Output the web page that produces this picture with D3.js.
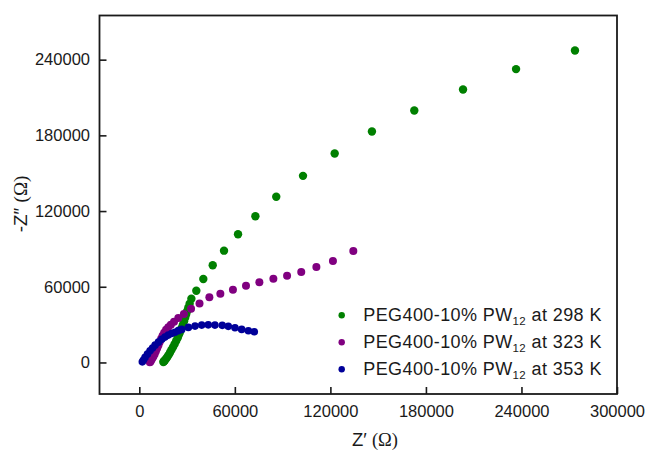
<!DOCTYPE html>
<html>
<head>
<meta charset="utf-8">
<script src="https://cdn.jsdelivr.net/npm/d3@7/dist/d3.min.js"></script>
<style>
  html, body { margin: 0; padding: 0; background: #fff; }
  svg { display: block; }
  text { font-family: "Liberation Sans", Arial, sans-serif; fill: #1a1a1a; }
</style>
</head>
<body>
<svg id="chart" width="646" height="452"></svg>
<script>
// Nyquist data (Z' and -Z'' in kΩ) for PEG400-10% PW12 at three temperatures
const re298 = [273.6, 236.6, 203.3, 172.7, 146.1, 122.7, 102.8, 86.0, 72.9, 62.0, 53.2, 46.1, 40.2, 35.8, 32.7,
  31.6, 30.8, 30.1, 29.4, 28.8, 28.1, 27.4, 26.6, 25.8, 25.0, 24.2, 23.2, 22.2, 21.2, 20.2, 19.3, 18.4, 17.6, 16.8, 16.1, 15.5, 15.1];
const im298 = [247.3, 232.5, 216.3, 199.7, 183.0, 165.6, 147.9, 131.4, 115.9, 101.6, 88.6, 77.0, 66.1, 56.8, 50.5,
  46.5, 43.5, 40.8, 38.0, 35.4, 32.6, 30.0, 27.3, 24.8, 22.3, 19.8, 17.2, 14.7, 12.3, 10.0, 7.9, 6.0, 4.3, 2.9, 1.8, 0.9, 0.3];

const re323 = [134.4, 121.6, 111.2, 101.7, 92.8, 84.2, 75.4, 67.0, 58.8, 50.9, 44.0, 37.8, 32.5, 28.0, 24.5, 21.8,
  19.8, 18.2, 16.8, 15.6, 14.6, 13.7, 12.8, 12.0, 11.2, 10.4, 9.6, 8.8, 8.0, 7.4, 6.9, 6.6];
const im323 = [88.3, 80.4, 75.6, 71.7, 68.7, 66.3, 63.5, 60.8, 57.6, 54.4, 51.6, 46.8, 42.5, 38.5, 35.3, 32.3,
  29.8, 28.0, 26.0, 23.6, 21.2, 18.8, 16.2, 13.6, 11.2, 8.8, 6.6, 4.6, 2.9, 1.6, 0.6, 0.1];

const re353 = [72.2, 68.5, 64.3, 60.1, 55.9, 52.1, 47.5, 43.3, 39.2, 35.0, 30.8, 26.6, 24.5, 22.4, 20.3, 18.2,
  16.1, 14.1, 12.0, 9.9, 8.3, 6.7, 5.1, 3.6, 2.6, 1.9];
const im353 = [24.3, 25.1, 26.2, 27.5, 28.6, 29.4, 29.6, 29.8, 29.6, 28.8, 27.8, 26.2, 25.2, 24.0, 22.9, 21.7,
  20.1, 18.3, 16.1, 13.7, 11.5, 9.2, 6.6, 4.0, 2.0, 0.5];

const xTicks = [0, 60000, 120000, 180000, 240000, 300000];
const yTicks = [0, 60000, 120000, 180000, 240000];

const seriesNames = ["298 K", "323 K", "353 K"];
const seriesColors = ["#008000", "#800080", "#000099"];

const series = [
  { name: seriesNames[0], color: seriesColors[0], r: 4.2, re: re298, im: im298 },
  { name: seriesNames[1], color: seriesColors[1], r: 4.0, re: re323, im: im323 },
  { name: seriesNames[2], color: seriesColors[2], r: 3.8, re: re353, im: im353 }
];

const svg = d3.select("#chart");
const frame = { left: 99.5, right: 617, top: 15.5, bottom: 394 };

const x = d3.scaleLinear().domain([-25000, 300000]).range([frame.left, frame.right]);
const y = d3.scaleLinear().domain([-25000, 275000]).range([frame.bottom, frame.top]);

// Axes with inward ticks
const xAxis = d3.axisBottom(x).tickValues(xTicks).tickFormat(d3.format("d"))
  .tickSizeInner(-7).tickSizeOuter(0).tickPadding(11);
const yAxis = d3.axisLeft(y).tickValues(yTicks).tickFormat(d3.format("d"))
  .tickSizeInner(-7).tickSizeOuter(0).tickPadding(9.5);

const gx = svg.append("g").attr("transform", `translate(0,${frame.bottom})`).call(xAxis);
const gy = svg.append("g").attr("transform", `translate(${frame.left},0)`).call(yAxis);
[gx, gy].forEach(g => {
  g.select(".domain").remove();
  g.selectAll(".tick line").attr("stroke", "#1a1a1a").attr("stroke-width", 1.6);
  g.selectAll(".tick text").attr("fill", "#1a1a1a")
    .style("font-family", '"Liberation Sans", Arial, sans-serif').style("font-size", "16.5px");
});

// Plot frame
svg.append("rect")
  .attr("x", frame.left).attr("y", frame.top)
  .attr("width", frame.right - frame.left).attr("height", frame.bottom - frame.top)
  .attr("fill", "none").attr("stroke", "#1a1a1a").attr("stroke-width", 1.8);

// Data points
series.forEach(s => {
  const pts = s.re.map((v, i) => [v * 1000, s.im[i] * 1000]);
  svg.append("g").selectAll("circle").data(pts).join("circle")
    .attr("cx", d => x(d[0])).attr("cy", d => y(d[1]))
    .attr("r", s.r).attr("fill", s.color);
});

// Legend
const legend = svg.append("g");
series.forEach((s, i) => {
  const yy = 320.7 + i * 27;
  legend.append("circle").attr("cx", 341.7).attr("cy", yy - 5.5).attr("r", 3.2).attr("fill", s.color);
  const t = legend.append("text").attr("x", 363.3).attr("y", yy)
    .style("font-size", "18px").style("letter-spacing", "0.4px");
  t.append("tspan").text("PEG400-10% PW");
  t.append("tspan").attr("dy", 4).style("font-size", "11.5px").text("12");
  t.append("tspan").attr("dy", -4).text(" at " + s.name);
});

// Axis titles
const xt = svg.append("text").attr("x", 375).attr("y", 446).attr("text-anchor", "middle").style("font-size", "18.5px");
xt.append("tspan").text("Z\u2032 ");
xt.append("tspan").style("font-family", '"Liberation Serif", "Times New Roman", serif').text("(\u03A9)");

const yt = svg.append("text").attr("transform", "translate(27,204) rotate(-90)")
  .attr("text-anchor", "middle").style("font-size", "19px");
yt.append("tspan").text("-Z\u2033 ");
yt.append("tspan").style("font-family", '"Liberation Serif", "Times New Roman", serif').text("(\u03A9)");
</script>
</body>
</html>
